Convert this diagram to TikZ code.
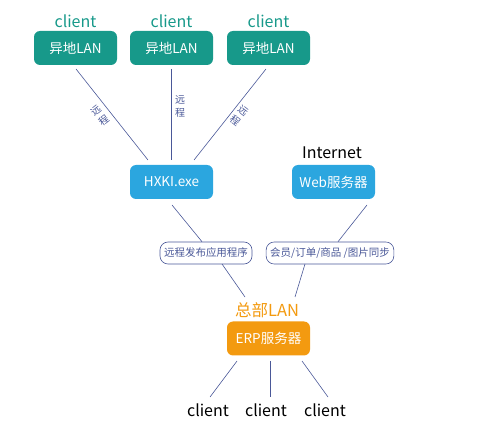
\documentclass[tikz,border=0pt]{standalone}
\usepackage{fontspec}
\setmainfont{Noto Sans CJK SC}
\definecolor{teal1}{HTML}{17998A}
\definecolor{blue1}{HTML}{2BA6DF}
\definecolor{orange1}{HTML}{F39A10}
\definecolor{navy1}{HTML}{4A5898}
\begin{document}
\begin{tikzpicture}[x=1pt,y=-1pt,
  box/.style={rounded corners=6pt, minimum width=83pt, minimum height=34pt, text=white, font=\fontsize{13.5}{15}\selectfont, inner sep=0pt},
  tealbox/.style={box, fill=teal1},
  bluebox/.style={box, fill=blue1},
  orangebox/.style={box, fill=orange1},
  conn/.style={draw=navy1, line width=0.6pt},
  pill/.style={draw=navy1, rounded corners=8pt, line width=0.6pt, text=navy1, font=\fontsize{10.5}{12}\selectfont, minimum height=22pt, inner xsep=4pt, inner ysep=0pt},
  vlab/.style={text=navy1, font=\fontsize{10}{13}\selectfont, align=center, inner sep=0pt},
  lab/.style={font=\fontsize{16}{18}\selectfont, inner sep=0pt}
]
\useasboundingbox (0,0) rectangle (499,433);
% top boxes
\node[tealbox] (l1) at (75.5,48) {异地LAN};
\node[tealbox] (l2) at (171.5,48) {异地LAN};
\node[tealbox] (l3) at (268.5,48) {异地LAN};
\node[lab, text=teal1] (c1) at (75.5,21) {client};
\node[lab, text=teal1] (c2) at (171.5,21) {client};
\node[lab, text=teal1] (c3) at (268.5,21) {client};
% middle
\node[bluebox] (hx) at (171.5,182) {HXKI.exe};
\node[bluebox] (web) at (333.5,182) {Web服务器};
\node[lab, text=black] (inet) at (332,153) {Internet};
% pills
\node[pill] (p1) at (206,253) {远程发布应用程序};
\node[pill] (p2) at (330,253) {会员/订单/商品 /图片同步};
% ERP
\node[lab, text=orange1, font=\fontsize{16.5}{18}\selectfont] (hq) at (267,310) {总部LAN};
\node[orangebox] (erp) at (268.5,338.5) {ERP服务器};
% bottom clients
\node[lab, text=black] (b1) at (208,410) {client};
\node[lab, text=black] (b2) at (266,410) {client};
\node[lab, text=black] (b3) at (325,410) {client};
% line labels
\node[vlab, rotate=38] (r1) at (100,116) {远\\程};
\node[vlab] (r2) at (180,106) {远\\程};
\node[vlab, rotate=-38] (r3) at (239,116) {远\\程};
% connector endpoints
\coordinate (t1) at (76,69);
\coordinate (t2) at (171,69);
\coordinate (t3) at (266,69);
\coordinate (h1) at (148,160);
\coordinate (h2) at (171,160);
\coordinate (h3) at (194,160);
\draw[conn] (t1) -- (h1);
\draw[conn] (t2) -- (h2);
\draw[conn] (t3) -- (h3);
\coordinate (hb) at (172,205);
\coordinate (wb) at (367,205);
\draw[conn] (hb) -- (p1.north -| 202,0);
\draw[conn] (wb) -- (p2.north -| 338,0);
\coordinate (p1b) at (222,264);
\coordinate (p2b) at (305,264);
\coordinate (e1) at (245,297);
\coordinate (e2) at (295,297);
\draw[conn] (p1b) -- (e1);
\draw[conn] (p2b) -- (e2);
\coordinate (eb1) at (237,361);
\coordinate (eb2) at (270,361);
\coordinate (eb3) at (302,361);
\coordinate (d1) at (210,397);
\coordinate (d2) at (270,397);
\coordinate (d3) at (328,397);
\draw[conn] (eb1) -- (d1);
\draw[conn] (eb2) -- (d2);
\draw[conn] (eb3) -- (d3);
\end{tikzpicture}
\end{document}
